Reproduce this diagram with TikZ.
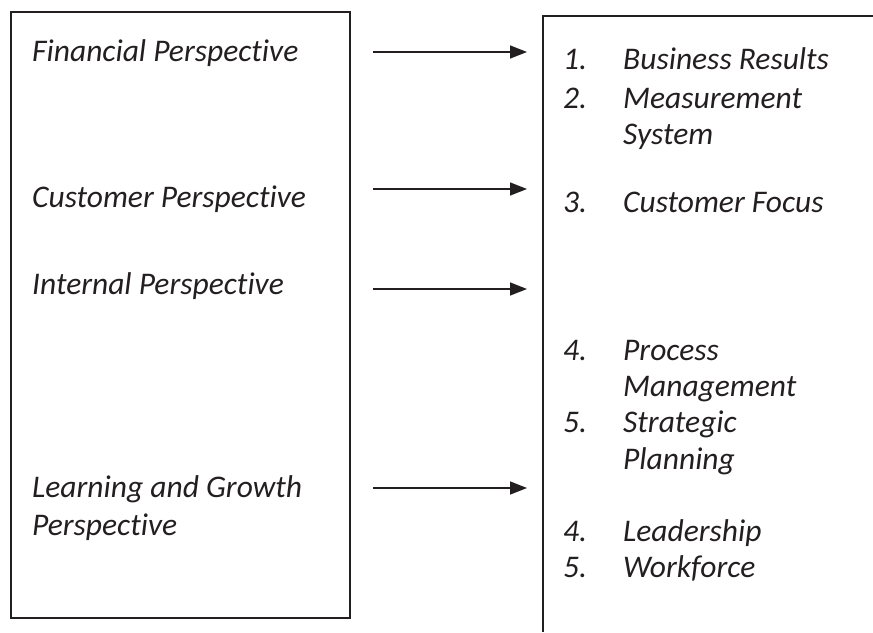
\documentclass[tikz,border=0pt]{standalone}
\usepackage{fontspec}
\setmainfont{Carlito}[Ligatures=NoCommon]
\usetikzlibrary{arrows.meta, positioning}
\definecolor{ink}{HTML}{231F20}

\begin{document}
\begin{tikzpicture}[x=1pt, y=-1pt, color=ink,
  frame/.style={draw, line width=2.2pt},
  txt/.style={anchor=base west, inner sep=0pt, font=\fontsize{31.5}{38}\selectfont\itshape},
  link/.style={-{Triangle[length=17pt, width=13pt]}, line width=1.5pt}]
  \useasboundingbox (0,0) rectangle (873,632);
  % boxes
  \node[frame, anchor=north west, inner sep=0pt, minimum width=339pt, minimum height=606pt] (lbox) at (10,11) {};
  \draw[line width=2.2pt] (873,16) coordinate (rtop) -- (543,16) coordinate (rcorner) -- (543,632) coordinate (rbot);
  % left column
  \node[txt] (fin) at (32,61) {Financial Perspective};
  \node[txt] (cust) at (32,207) {Customer Perspective};
  \node[txt] (int) at (32,294) {Internal Perspective};
  \node[txt] (learn) at (32,497) {Learning and Growth};
  \node[txt] (learn2) at (32,535) {Perspective};
  % right column
  \foreach \n/\t/\y in {1./Business Results/69, 2./Measurement/108, 3./Customer Focus/212,
      4./Process/360, 5./Strategic/432, 4./Leadership/541, 5./Workforce/577}
    {\node[txt] (n\y) at (563,\y) {\n};
     \node[txt] (t\y) at (623,\y) {\t};}
  \node[txt] (sys) at (623,144) {System};
  \node[txt] (mgmt) at (623,396) {Management};
  \node[txt] (plan) at (623,469) {Planning};
  % arrows
  \coordinate (a1) at (373,52);  \coordinate (b1) at (527,52);
  \coordinate (a2) at (373,189); \coordinate (b2) at (527,189);
  \coordinate (a3) at (373,289); \coordinate (b3) at (527,289);
  \coordinate (a4) at (373,488); \coordinate (b4) at (527,488);
  \foreach \i in {1,...,4}
    \draw[link] (a\i) -- (b\i);
\end{tikzpicture}
\end{document}
